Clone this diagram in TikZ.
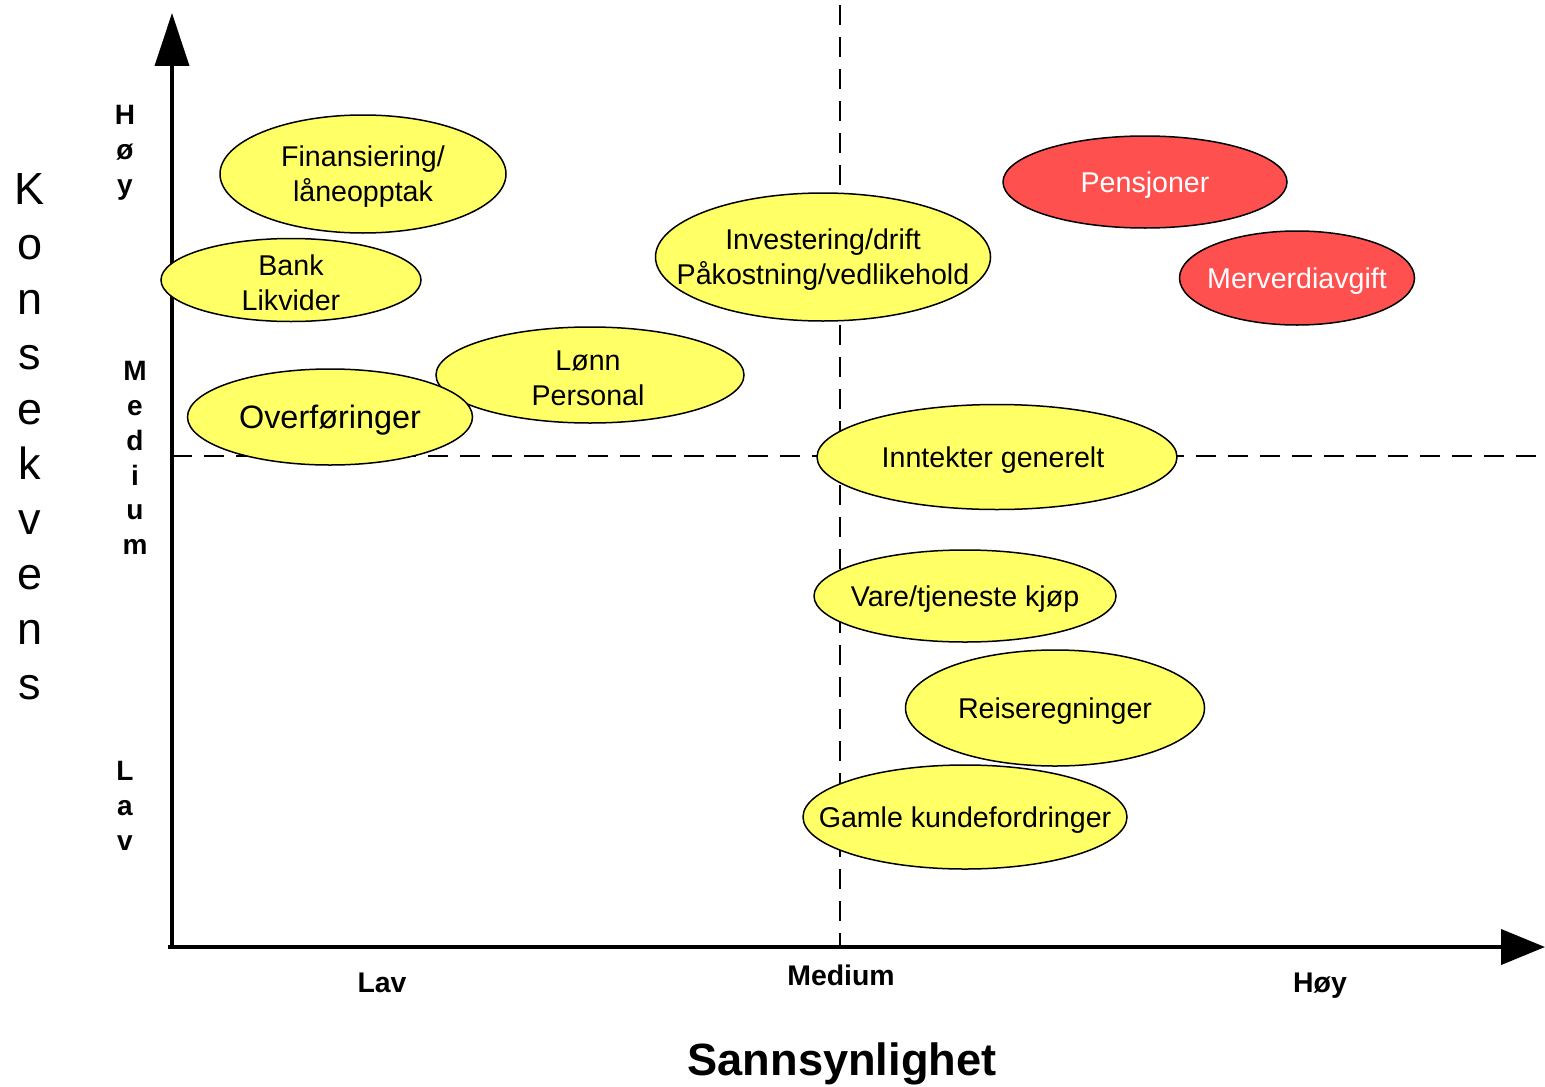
\documentclass[tikz,border=0pt]{standalone}
\usepackage{fontspec}
\setmainfont{Liberation Sans}
\usetikzlibrary{shapes.geometric,arrows.meta}
\definecolor{ylw}{HTML}{FFFF66}
\definecolor{rd}{HTML}{FF5050}
\tikzset{
  vaxis/.style={line width=2pt,-{Triangle[length=26.5pt,width=17pt]}},
  haxis/.style={line width=2pt,-{Triangle[length=22pt,width=17.5pt]}},
  guide/.style={line width=1pt,dash pattern=on 10pt off 6pt},
  bubble/.style={ellipse,draw=black,line width=0.75pt,fill=ylw,inner sep=0pt},
  hot/.style={bubble,fill=rd},
  btxt/.style={inner sep=0pt,align=center,font=\fontsize{14.3}{17.5}\selectfont,yshift=-1.5pt},
  wtxt/.style={btxt,text=white},
  lvl/.style={font=\bfseries\fontsize{14}{17.4}\selectfont,align=center,inner sep=0pt},
  ttl/.style={font=\fontsize{22.5}{27.5}\selectfont,align=center,inner sep=0pt},
  tick/.style={font=\bfseries\fontsize{14.2}{16}\selectfont,inner sep=0pt},
}
\begin{document}
\begin{tikzpicture}[x=0.5pt,y=-0.5pt]
\useasboundingbox[fill=white] (0,0) rectangle (1545,1086);
% guides
\coordinate (vt) at (840,5);
\coordinate (vb) at (840,947);
\coordinate (hl) at (172,456);
\coordinate (hr) at (1545,456);
\draw[guide] (vt) -- (vb);
\draw[guide] (hl) -- (hr);
% axes
\coordinate (o) at (172,947);
\coordinate (ol) at (168,947);
\coordinate (ytip) at (172,13);
\coordinate (xtip) at (1545,947);
\draw[vaxis] (o) -- (ytip);
\draw[haxis] (ol) -- (xtip);
% bubbles
\node[bubble,minimum width=143pt,minimum height=59pt] (fin) at (363,174) {};
\node[btxt] (fint) at (fin) {Finansiering/\\låneopptak};
\node[bubble,minimum width=130pt,minimum height=41.5pt] (bank) at (291,280) {};
\node[btxt] (bankt) at (bank) {Bank\\Likvider};
\node[bubble,minimum width=154pt,minimum height=48pt] (lonn) at (590,375) {};
\node[btxt,xshift=-1pt] (lonnt) at (lonn) {Lønn\\Personal};
\node[bubble,minimum width=142.5pt,minimum height=48pt] (ovf) at (330,417) {};
\node[btxt,font=\fontsize{16.2}{17.5}\selectfont] (ovft) at (ovf) {Overføringer};
\node[bubble,minimum width=167.5pt,minimum height=64pt] (inv) at (823,257) {};
\node[btxt] (invt) at (inv) {Investering/drift\\Påkostning/vedlikehold};
\node[hot,minimum width=142pt,minimum height=46pt] (pen) at (1145,182) {};
\node[wtxt] (pent) at (pen) {Pensjoner};
\node[hot,minimum width=117.5pt,minimum height=47pt] (mva) at (1297,278) {};
\node[wtxt] (mvat) at (mva) {Merverdiavgift};
\node[bubble,minimum width=180pt,minimum height=52.5pt] (inn) at (997,457) {};
\node[btxt,xshift=-2pt] (innt) at (inn) {Inntekter generelt};
\node[bubble,minimum width=151pt,minimum height=46pt] (vare) at (965,596) {};
\node[btxt] (varet) at (vare) {Vare/tjeneste kjøp};
\node[bubble,minimum width=149.5pt,minimum height=58pt] (reise) at (1055,708) {};
\node[btxt] (reiset) at (reise) {Reiseregninger};
\node[bubble,minimum width=162pt,minimum height=52pt] (gamle) at (965,817) {};
\node[btxt] (gamlet) at (gamle) {Gamle kundefordringer};
% axis labels
\node[ttl] (kons) at (30,437) {K\\o\\n\\s\\e\\k\\v\\e\\n\\s};
\node[lvl] (yh) at (125,153) {H\\ø\\y};
\node[lvl] (ym) at (135,458) {M\\e\\d\\i\\u\\m};
\node[lvl] (yl) at (125,806) {L\\a\\v};
\node[tick] (xl) at (382,983) {Lav};
\node[tick] (xm) at (841,975) {Medium};
\node[tick] (xh) at (1320,986) {Høy};
\node[font=\bfseries\fontsize{22.6}{27}\selectfont,inner sep=0pt] (sann) at (842,1064) {Sannsynlighet};
\end{tikzpicture}
\end{document}
